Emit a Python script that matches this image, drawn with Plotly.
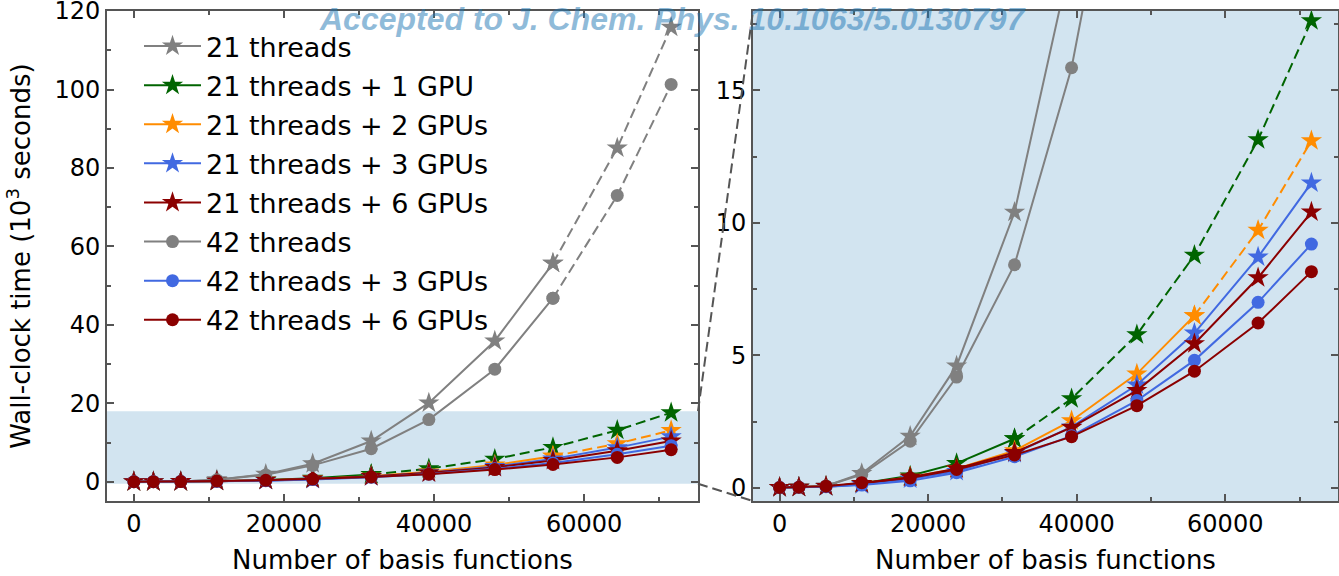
import plotly.graph_objects as go

# ---- data ----
basis = [0, 2600, 6250, 11060, 17580, 23830, 31630, 39310, 48100, 55850, 64420, 71600]
t21 = [0.01, 0.02, 0.07, 0.54, 1.95, 4.6, 10.4, 20.1, 35.9, 55.7, 85.1, 115.9]
t21_1gpu = [0.01, 0.02, 0.05, 0.16, 0.45, 0.92, 1.85, 3.36, 5.78, 8.78, 13.14, 17.63]
t21_2gpu = [0.01, 0.02, 0.05, 0.15, 0.40, 0.72, 1.40, 2.53, 4.30, 6.50, 9.72, 13.10]
t21_3gpu = [0.01, 0.02, 0.04, 0.12, 0.33, 0.62, 1.30, 2.30, 3.88, 5.84, 8.71, 11.51]
t21_6gpu = [0.01, 0.02, 0.05, 0.16, 0.40, 0.72, 1.33, 2.28, 3.67, 5.44, 7.93, 10.41]
t42 = [0.01, 0.02, 0.07, 0.50, 1.76, 4.18, 8.42, 15.86, 28.7, 46.8, 73.0, 101.3]
t42_3gpu = [0.01, 0.02, 0.04, 0.10, 0.26, 0.57, 1.17, 1.96, 3.29, 4.81, 7.00, 9.20]
t42_6gpu = [0.01, 0.02, 0.06, 0.19, 0.37, 0.69, 1.24, 1.93, 3.10, 4.40, 6.22, 8.16]

xticks = [0, 20000, 40000, 60000]
xticklabels = ["0", "20000", "40000", "60000"]
yticks_left = [0, 20, 40, 60, 80, 100, 120]
yticks_right = [0, 5, 10, 15]

# (name, values, color, symbol, index where dashed part starts or None)
series = [
    ("21 threads", t21, "#808080", "star", 9),
    ("21 threads + 1 GPU", t21_1gpu, "#006400", "star", 6),
    ("21 threads + 2 GPUs", t21_2gpu, "#ff8c00", "star", 9),
    ("21 threads + 3 GPUs", t21_3gpu, "#4169e1", "star", None),
    ("21 threads + 6 GPUs", t21_6gpu, "#8b0000", "star", None),
    ("42 threads", t42, "#808080", "circle", 9),
    ("42 threads + 3 GPUs", t42_3gpu, "#4169e1", "circle", None),
    ("42 threads + 6 GPUs", t42_6gpu, "#8b0000", "circle", None),
]

XR = [-3580, 75180]
YL = [-4.9, 120.02]
YR = [-0.5, 18]
ZOOM_Y = [-0.5, 18]

W, H = 1339, 576
dom_left = [107 / W, 698 / W]
dom_right = [753 / W, 1338 / W]
dom_y = [1 - 501 / H, 1 - 11 / H]
FT = 24   # tick labels
FL = 27   # legend
FA = 26   # axis titles

fig = go.Figure()

for name, vals, col, sym, k in series:
    msize = 16 if sym == "star" else 13
    for xa, ya, show in (("x", "y", True), ("x2", "y2", False)):
        solid_end = len(basis) if k is None else k + 1
        fig.add_trace(go.Scatter(
            x=basis[:solid_end], y=vals[:solid_end], mode="lines+markers",
            name=name, legendgroup=name, showlegend=show,
            line=dict(color=col, width=2),
            marker=dict(symbol=sym, size=msize, color=col, line=dict(width=0)),
            xaxis=xa, yaxis=ya,
        ))
        if k is not None:
            fig.add_trace(go.Scatter(
                x=basis[k:], y=vals[k:], mode="lines+markers",
                name=name, legendgroup=name, showlegend=False,
                line=dict(color=col, width=2, dash="10px,5px"),
                marker=dict(symbol=sym, size=msize, color=col, line=dict(width=0)),
                xaxis=xa, yaxis=ya,
            ))

axis_common = dict(
    showline=True, linecolor="#555555", linewidth=2, mirror="allticks",
    ticks="inside", ticklen=7, tickwidth=1.5, tickcolor="#555555",
    showgrid=False, zeroline=False, automargin=False, ticklabeloverflow="allow",
    tickfont=dict(family="DejaVu Sans", size=FT, color="black"),
    title_font=dict(family="DejaVu Sans", size=FA, color="black"),
)
minor_x = dict(ticks="inside", ticklen=4, tickcolor="#555555", dtick=10000, tick0=0)

fig.update_layout(
    width=W, height=H,
    margin=dict(l=0, r=0, t=0, b=0),
    paper_bgcolor="white", plot_bgcolor="white",
    xaxis=dict(domain=dom_left, range=XR, anchor="y", tickvals=xticks, ticktext=xticklabels,
               minor=minor_x, title=dict(text="Number of basis functions", standoff=14), **axis_common),
    yaxis=dict(domain=dom_y, range=YL, anchor="x", tickvals=yticks_left,
               minor=dict(ticks="inside", ticklen=4, tickcolor="#555555", dtick=10, tick0=0),
               title=dict(text="Wall-clock time (10<sup>3</sup> seconds)", standoff=16), **axis_common),
    xaxis2=dict(domain=dom_right, range=XR, anchor="y2", tickvals=xticks, ticktext=xticklabels,
                minor=minor_x, title=dict(text="Number of basis functions", standoff=14), **axis_common),
    yaxis2=dict(domain=dom_y, range=YR, anchor="x2", tickvals=yticks_right,
                minor=dict(ticks="inside", ticklen=4, tickcolor="#555555", dtick=2.5, tick0=0),
                **axis_common),
    legend=dict(x=139 / W, y=1 - 22 / H, xanchor="left", yanchor="top",
                bgcolor="rgba(0,0,0,0)", tracegroupgap=1, itemwidth=57,
                font=dict(family="DejaVu Sans", size=FL, color="black")),
    showlegend=True,
)

band = "rgba(31,119,180,0.2)"
fig.add_shape(type="rect", xref="x domain", yref="y", x0=0, x1=1, y0=ZOOM_Y[0], y1=ZOOM_Y[1],
              fillcolor=band, line=dict(width=0), layer="below")
fig.add_shape(type="rect", xref="x2 domain", yref="y2 domain", x0=0, x1=1, y0=0, y1=1,
              fillcolor=band, line=dict(width=0), layer="below")

# connector lines between zoom band and right panel
def ypaper(v, rng):
    return dom_y[0] + (v - rng[0]) / (rng[1] - rng[0]) * (dom_y[1] - dom_y[0])

for v in ZOOM_Y:
    fig.add_shape(type="line", xref="paper", yref="paper",
                  x0=dom_left[1], y0=ypaper(v, YL), x1=dom_right[0], y1=ypaper(v, YR),
                  line=dict(color="#555555", width=2, dash="10px,5px"))

fig.add_annotation(
    text="Accepted to J. Chem. Phys. 10.1063/5.0130797",
    xref="paper", yref="paper", x=673 / W, y=1 - 19 / H, showarrow=False,
    xanchor="center", yanchor="middle",
    font=dict(family="Liberation Sans", size=32, color="rgba(31,119,180,0.5)",
              weight="bold", style="italic"),
)

fig.write_html("out.html", config={"displayModeBar": False},
               post_script="document.body.style.margin='0px';")
